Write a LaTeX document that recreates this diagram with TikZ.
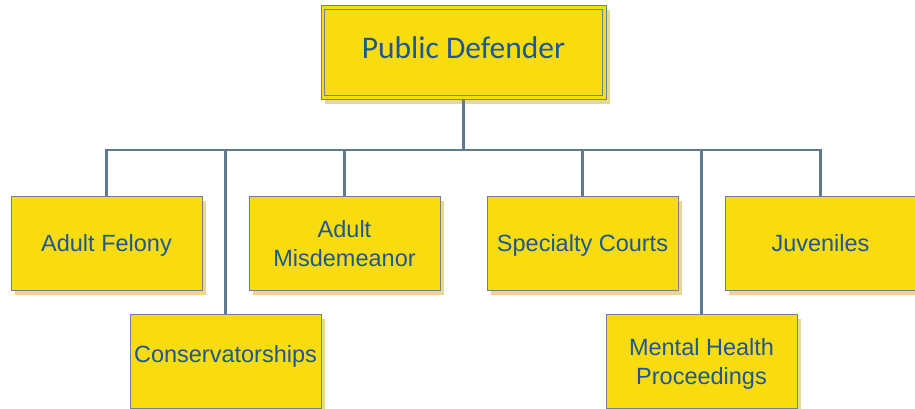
\documentclass[tikz,border=0pt]{standalone}
\usepackage{fontspec}
\setmainfont{Liberation Sans}
\newfontfamily\titlefont{Carlito}
\usetikzlibrary{shadows,calc}
\definecolor{boxfill}{HTML}{F9DC10}
\definecolor{boxline}{HTML}{6E8296}
\definecolor{shadowc}{HTML}{E9D890}
\definecolor{textblue}{HTML}{1D5794}
\definecolor{linkc}{HTML}{5F7990}
\tikzset{
  unitbox/.style={draw=boxline, line width=0.9pt, fill=boxfill,
    minimum width=191pt, minimum height=94pt, inner sep=0pt,
    text=textblue, align=center, font=\fontsize{23.5}{29}\selectfont,
    general shadow={shadow xshift=4pt, shadow yshift=-5pt, fill=shadowc}},
  headbox/.style={unitbox, minimum width=285pt, minimum height=94pt,
    font=\titlefont\fontsize{31.5}{34}\selectfont},
  link/.style={draw=linkc, line width=2.6pt}
}
\begin{document}
\begin{tikzpicture}[x=1pt, y=-1pt]
  \clip (0,0) rectangle (915,408);
  \fill[white] (0,0) rectangle (915,408);

  % head of office
  \node[headbox, text depth=8pt] (pd) at (463.5,52) {Public Defender};
  \draw[boxline, line width=0.9pt] ($(pd.north west)+(4,5)$) rectangle ($(pd.south east)+(-4,-4)$);

  % divisions
  \node[unitbox, text depth=0pt] (af) at (106.5,243) {Adult Felony};
  \node[unitbox, text depth=-6pt] (am) at (344.5,243) {Adult\\Misdemeanor};
  \node[unitbox, text depth=0pt] (sc) at (582.5,243) {Specialty Courts};
  \node[unitbox, text depth=0pt] (ju) at (820.5,243) {Juveniles};
  \node[unitbox, text depth=14pt] (co) at (225.5,361) {Conservatorships};
  \node[unitbox, text depth=-3pt] (mh) at (701.5,361) {Mental Health\\Proceedings};

  % connectors
  \coordinate (bus) at (463.5,150);
  \draw[link] (pd.south) -- (bus);
  \draw[link] (af.north) -- (af.north |- bus) -- (ju.north |- bus) -- (ju.north);
  \draw[link] (am.north) -- (am.north |- bus);
  \draw[link] (sc.north) -- (sc.north |- bus);
  \draw[link] (co.north) -- (co.north |- bus);
  \draw[link] (mh.north) -- (mh.north |- bus);
\end{tikzpicture}
\end{document}
